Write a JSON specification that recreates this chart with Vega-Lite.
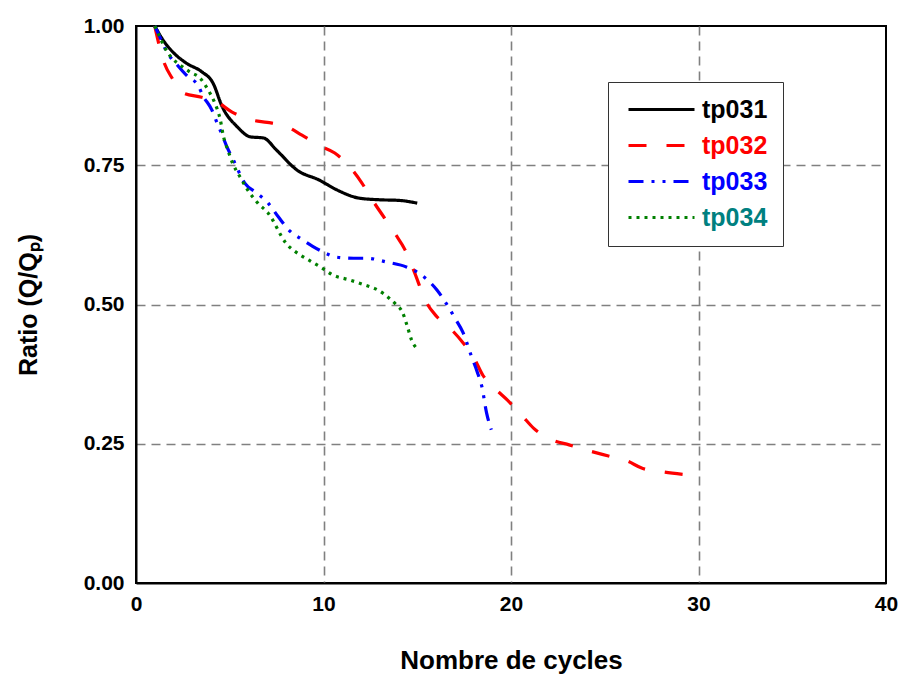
{
  "$schema": "https://vega.github.io/schema/vega-lite/v6.json",
  "width": 750,
  "height": 557,
  "autosize": "none",
  "padding": {"left": 136, "top": 26, "right": 15, "bottom": 95},
  "background": "white",
  "config": {
    "view": {"stroke": "black", "strokeWidth": 2},
    "font": "Liberation Sans"
  },
  "data": {
    "values": [
      {"s": "tp031", "x": 1, "y": 1.0},
      {"s": "tp031", "x": 1.5, "y": 0.972},
      {"s": "tp031", "x": 2, "y": 0.952},
      {"s": "tp031", "x": 2.7, "y": 0.933},
      {"s": "tp031", "x": 3.5, "y": 0.918},
      {"s": "tp031", "x": 4.1, "y": 0.898},
      {"s": "tp031", "x": 4.6, "y": 0.855},
      {"s": "tp031", "x": 5.4, "y": 0.819},
      {"s": "tp031", "x": 6.1, "y": 0.801},
      {"s": "tp031", "x": 6.8, "y": 0.799},
      {"s": "tp031", "x": 7.5, "y": 0.777},
      {"s": "tp031", "x": 8.6, "y": 0.741},
      {"s": "tp031", "x": 9.8, "y": 0.723},
      {"s": "tp031", "x": 10.7, "y": 0.706},
      {"s": "tp031", "x": 11.9, "y": 0.691},
      {"s": "tp031", "x": 13, "y": 0.688},
      {"s": "tp031", "x": 14, "y": 0.687},
      {"s": "tp031", "x": 15, "y": 0.682},
      {"s": "tp032", "x": 1, "y": 1.0},
      {"s": "tp032", "x": 1.45, "y": 0.939},
      {"s": "tp032", "x": 1.95, "y": 0.905},
      {"s": "tp032", "x": 2.5, "y": 0.88},
      {"s": "tp032", "x": 3.5, "y": 0.872},
      {"s": "tp032", "x": 4.3, "y": 0.864},
      {"s": "tp032", "x": 5.1, "y": 0.846},
      {"s": "tp032", "x": 6.2, "y": 0.831},
      {"s": "tp032", "x": 7, "y": 0.827},
      {"s": "tp032", "x": 8, "y": 0.82},
      {"s": "tp032", "x": 8.85, "y": 0.804},
      {"s": "tp032", "x": 9.8, "y": 0.785},
      {"s": "tp032", "x": 10.6, "y": 0.772},
      {"s": "tp032", "x": 11.4, "y": 0.747},
      {"s": "tp032", "x": 12.05, "y": 0.718},
      {"s": "tp032", "x": 12.6, "y": 0.688},
      {"s": "tp032", "x": 13.8, "y": 0.628},
      {"s": "tp032", "x": 14.35, "y": 0.598},
      {"s": "tp032", "x": 14.8, "y": 0.562},
      {"s": "tp032", "x": 15.5, "y": 0.503},
      {"s": "tp032", "x": 16.05, "y": 0.478},
      {"s": "tp032", "x": 16.85, "y": 0.454},
      {"s": "tp032", "x": 17.45, "y": 0.431},
      {"s": "tp032", "x": 18, "y": 0.406},
      {"s": "tp032", "x": 18.5, "y": 0.373},
      {"s": "tp032", "x": 19.15, "y": 0.349},
      {"s": "tp032", "x": 19.85, "y": 0.327},
      {"s": "tp032", "x": 20.6, "y": 0.3},
      {"s": "tp032", "x": 21.2, "y": 0.278},
      {"s": "tp032", "x": 22.2, "y": 0.257},
      {"s": "tp032", "x": 23.1, "y": 0.248},
      {"s": "tp032", "x": 24.2, "y": 0.237},
      {"s": "tp032", "x": 25.2, "y": 0.228},
      {"s": "tp032", "x": 26.2, "y": 0.219},
      {"s": "tp032", "x": 27, "y": 0.206},
      {"s": "tp032", "x": 28.2, "y": 0.199},
      {"s": "tp032", "x": 29.2, "y": 0.195},
      {"s": "tp033", "x": 1, "y": 1.0},
      {"s": "tp033", "x": 1.4, "y": 0.971},
      {"s": "tp033", "x": 1.65, "y": 0.953},
      {"s": "tp033", "x": 2.1, "y": 0.934},
      {"s": "tp033", "x": 2.8, "y": 0.908},
      {"s": "tp033", "x": 3.3, "y": 0.894},
      {"s": "tp033", "x": 3.55, "y": 0.876},
      {"s": "tp033", "x": 4.05, "y": 0.849},
      {"s": "tp033", "x": 4.3, "y": 0.828},
      {"s": "tp033", "x": 4.6, "y": 0.804},
      {"s": "tp033", "x": 4.85, "y": 0.783},
      {"s": "tp033", "x": 5.2, "y": 0.759},
      {"s": "tp033", "x": 5.8, "y": 0.718},
      {"s": "tp033", "x": 6.45, "y": 0.7},
      {"s": "tp033", "x": 7.05, "y": 0.682},
      {"s": "tp033", "x": 7.6, "y": 0.657},
      {"s": "tp033", "x": 8.2, "y": 0.632},
      {"s": "tp033", "x": 8.75, "y": 0.619},
      {"s": "tp033", "x": 9.4, "y": 0.605},
      {"s": "tp033", "x": 10, "y": 0.594},
      {"s": "tp033", "x": 10.7, "y": 0.585},
      {"s": "tp033", "x": 11.6, "y": 0.583},
      {"s": "tp033", "x": 12.3, "y": 0.583},
      {"s": "tp033", "x": 13.4, "y": 0.576},
      {"s": "tp033", "x": 14.45, "y": 0.567},
      {"s": "tp033", "x": 15.05, "y": 0.557},
      {"s": "tp033", "x": 16.05, "y": 0.526},
      {"s": "tp033", "x": 16.6, "y": 0.499},
      {"s": "tp033", "x": 17, "y": 0.476},
      {"s": "tp033", "x": 17.45, "y": 0.449},
      {"s": "tp033", "x": 17.9, "y": 0.406},
      {"s": "tp033", "x": 18.2, "y": 0.379},
      {"s": "tp033", "x": 18.45, "y": 0.352},
      {"s": "tp033", "x": 18.7, "y": 0.305},
      {"s": "tp033", "x": 18.95, "y": 0.275},
      {"s": "tp034", "x": 1, "y": 1.0},
      {"s": "tp034", "x": 1.3, "y": 0.978},
      {"s": "tp034", "x": 1.55, "y": 0.96},
      {"s": "tp034", "x": 1.9, "y": 0.943},
      {"s": "tp034", "x": 2.35, "y": 0.93},
      {"s": "tp034", "x": 2.9, "y": 0.917},
      {"s": "tp034", "x": 3.4, "y": 0.907},
      {"s": "tp034", "x": 3.85, "y": 0.885},
      {"s": "tp034", "x": 4.2, "y": 0.862},
      {"s": "tp034", "x": 4.5, "y": 0.831},
      {"s": "tp034", "x": 4.65, "y": 0.804},
      {"s": "tp034", "x": 4.9, "y": 0.777},
      {"s": "tp034", "x": 5.15, "y": 0.754},
      {"s": "tp034", "x": 5.55, "y": 0.729},
      {"s": "tp034", "x": 5.95, "y": 0.706},
      {"s": "tp034", "x": 6.5, "y": 0.682},
      {"s": "tp034", "x": 7.05, "y": 0.664},
      {"s": "tp034", "x": 8, "y": 0.61},
      {"s": "tp034", "x": 8.75, "y": 0.589},
      {"s": "tp034", "x": 9.3, "y": 0.578},
      {"s": "tp034", "x": 9.9, "y": 0.566},
      {"s": "tp034", "x": 10.5, "y": 0.553},
      {"s": "tp034", "x": 11.4, "y": 0.544},
      {"s": "tp034", "x": 12.2, "y": 0.535},
      {"s": "tp034", "x": 12.9, "y": 0.526},
      {"s": "tp034", "x": 13.55, "y": 0.51},
      {"s": "tp034", "x": 13.9, "y": 0.499},
      {"s": "tp034", "x": 14.2, "y": 0.487},
      {"s": "tp034", "x": 14.45, "y": 0.463},
      {"s": "tp034", "x": 14.7, "y": 0.436},
      {"s": "tp034", "x": 15, "y": 0.42}
    ]
  },
  "mark": {"type": "line", "interpolate": "monotone", "strokeWidth": 3.2},
  "encoding": {
    "x": {
      "field": "x", "type": "quantitative",
      "scale": {"domain": [0, 40], "nice": false, "zero": false},
      "axis": {
        "values": [0, 10, 20, 30, 40],
        "title": "Nombre de cycles",
        "titleFont": "Liberation Sans", "titleFontSize": 26, "titleFontWeight": "bold", "titleColor": "black",
        "titlePadding": 33,
        "labelFont": "Liberation Sans", "labelFontSize": 21, "labelFontWeight": "bold", "labelColor": "black",
        "labelPadding": 10,
        "labelFlush": false,
        "ticks": false,
        "domainColor": "black", "domainWidth": 2,
        "grid": true,
        "gridColor": {"condition": {"test": "datum.value == 0 || datum.value == 40", "value": "transparent"}, "value": "#808080"},
        "gridDash": [9, 6], "gridWidth": 1.6
      }
    },
    "y": {
      "field": "y", "type": "quantitative",
      "scale": {"domain": [0, 1], "nice": false, "zero": false},
      "axis": {
        "values": [0, 0.25, 0.5, 0.75, 1],
        "format": ".2f",
        "title": "Ratio (Q/Qₚ)",
        "titleFont": "Liberation Sans", "titleFontSize": 25, "titleFontWeight": "bold", "titleColor": "black",
        "titlePadding": 42,
        "labelFont": "Liberation Sans", "labelFontSize": 21, "labelFontWeight": "bold", "labelColor": "black",
        "labelPadding": 12,
        "labelFlush": false,
        "ticks": false,
        "domainColor": "black", "domainWidth": 2,
        "grid": true,
        "gridColor": {"condition": {"test": "datum.value == 0 || datum.value == 1", "value": "transparent"}, "value": "#808080"},
        "gridDash": [9, 6], "gridWidth": 1.6
      }
    },
    "color": {
      "field": "s", "type": "nominal",
      "scale": {"domain": ["tp031", "tp032", "tp033", "tp034"], "range": ["#000000", "#ff0000", "#0000ff", "#008000"]},
      "legend": {
        "orient": "none", "legendX": 472, "legendY": 56,
        "title": null,
        "symbolType": "M-6.6,0H6.6", "symbolSize": 100, "symbolStrokeWidth": 3.2,
        "symbolOffset": 26,
        "labelFont": "Liberation Sans", "labelFontSize": 25, "labelFontWeight": "bold",
        "labelOffset": 28, "padding": 15, "rowPadding": 10,
        "strokeColor": "#333333", "fillColor": "white",
        "encode": {"labels": {"update": {"fill": {"signal": "datum.value === 'tp031' ? '#000000' : datum.value === 'tp032' ? '#ff0000' : datum.value === 'tp033' ? '#0000ff' : '#008080'"}}}}
      }
    },
    "strokeDash": {
      "field": "s", "type": "nominal",
      "scale": {"domain": ["tp031", "tp032", "tp033", "tp034"], "range": [[1, 0], [18, 20], [15, 8, 3, 8, 3, 8], [3, 5]]},
      "legend": {
        "orient": "none", "legendX": 472, "legendY": 56,
        "title": null,
        "symbolType": "M-6.6,0H6.6", "symbolSize": 100, "symbolStrokeWidth": 3.2,
        "symbolOffset": 26,
        "labelFont": "Liberation Sans", "labelFontSize": 25, "labelFontWeight": "bold",
        "labelOffset": 28, "padding": 15, "rowPadding": 10,
        "strokeColor": "#333333", "fillColor": "white",
        "encode": {"labels": {"update": {"fill": {"signal": "datum.value === 'tp031' ? '#000000' : datum.value === 'tp032' ? '#ff0000' : datum.value === 'tp033' ? '#0000ff' : '#008080'"}}}}
      }
    }
  }
}
